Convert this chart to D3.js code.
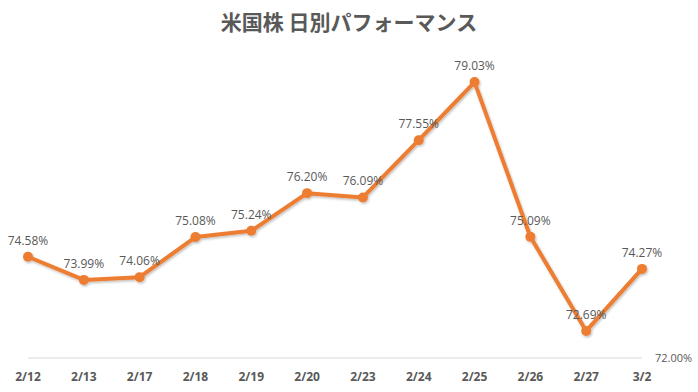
<!DOCTYPE html>
<html>
<head>
<meta charset="utf-8">
<script src="https://cdn.jsdelivr.net/npm/d3@7"></script>
<style>
  body { margin: 0; background: #fff; }
  svg { display: block; font-family: "Open Sans", "Noto Sans CJK JP", sans-serif; }
</style>
</head>
<body>
<svg id="chart"></svg>
<script>
// 米国株 日別パフォーマンス
const dates = ["2/12", "2/13", "2/17", "2/18", "2/19", "2/20", "2/23", "2/24", "2/25", "2/26", "2/27", "3/2"];
const perf = [74.58, 73.99, 74.06, 75.08, 75.24, 76.20, 76.09, 77.55, 79.03, 75.09, 72.69, 74.27];
const yTicks = [72];

const width = 698, height = 392;
const svg = d3.select("#chart").attr("width", width).attr("height", height);

const data = dates.map((d, i) => ({ date: d, v: perf[i] }));

const x = d3.scalePoint().domain(dates).range([28, 642]);
const y = d3.scaleLinear().domain([72, 80]).range([358, 44]);

// title
svg.append("text")
  .attr("x", 349).attr("y", 30)
  .attr("text-anchor", "middle")
  .attr("font-size", 21).attr("font-weight", "bold")
  .attr("fill", "#595959")
  .attr("font-family", "'Noto Sans CJK JP', sans-serif")
  .text("米国株 日別パフォーマンス");

// baseline
svg.append("line")
  .attr("x1", 28).attr("x2", 642)
  .attr("y1", y(72)).attr("y2", y(72))
  .attr("stroke", "#d9d9d9").attr("stroke-width", 1);

// right axis label (only the minimum is shown)
svg.selectAll(".ytick")
  .data(yTicks)
  .join("text")
  .attr("class", "ytick")
  .attr("x", 655).attr("y", d => y(d) + 4)
  .attr("font-size", 11).attr("fill", "#595959")
  .text(d => d.toFixed(2) + "%");

// x labels
svg.selectAll(".xlab")
  .data(dates)
  .join("text")
  .attr("class", "xlab")
  .attr("x", d => x(d)).attr("y", 381)
  .attr("text-anchor", "middle")
  .attr("font-size", 12).attr("font-weight", "bold")
  .attr("fill", "#595959")
  .text(d => d);

// shadow filter
const defs = svg.append("defs");
const f = defs.append("filter").attr("id", "sh").attr("x", "-10%").attr("y", "-10%").attr("width", "120%").attr("height", "120%");
f.append("feDropShadow").attr("dx", 1).attr("dy", 1.5).attr("stdDeviation", 1.2)
  .attr("flood-color", "#000").attr("flood-opacity", 0.25);

const g = svg.append("g").attr("filter", "url(#sh)");

g.append("path")
  .datum(data)
  .attr("fill", "none")
  .attr("stroke", "#ED7D31")
  .attr("stroke-width", 4)
  .attr("stroke-linejoin", "round")
  .attr("d", d3.line().x(d => x(d.date)).y(d => y(d.v)));

g.selectAll("circle")
  .data(data)
  .join("circle")
  .attr("cx", d => x(d.date)).attr("cy", d => y(d.v))
  .attr("r", 5)
  .attr("fill", "#ED7D31");

// value labels
svg.selectAll(".vlab")
  .data(data)
  .join("text")
  .attr("class", "vlab")
  .attr("x", d => x(d.date)).attr("y", d => y(d.v) - 12)
  .attr("text-anchor", "middle")
  .attr("font-size", 12).attr("fill", "#595959")
  .text(d => d.v.toFixed(2) + "%");
</script>
</body>
</html>
